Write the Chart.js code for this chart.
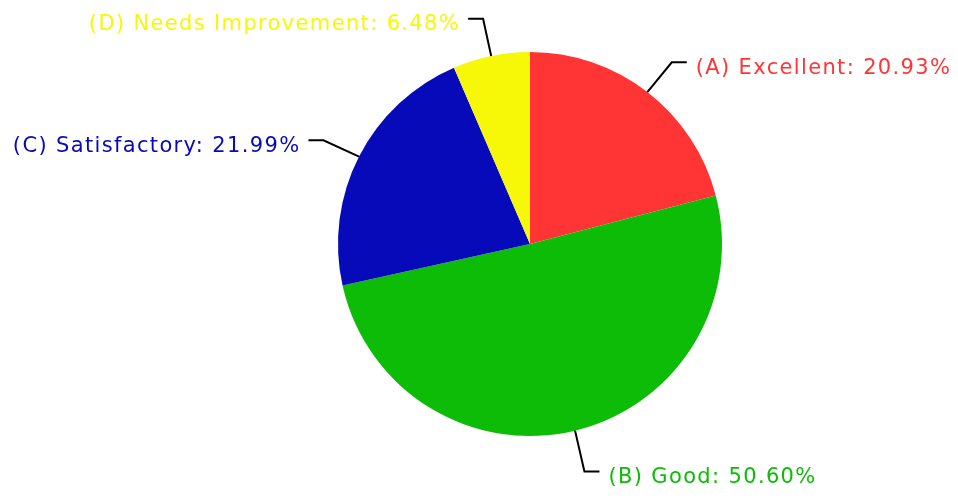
<!DOCTYPE html>
<html lang="en">

<head>
    <meta charset="UTF-8" />
    <title>Grade distribution</title>
    <script src="https://cdn.jsdelivr.net/npm/chart.js"></script>
    <style>
        html, body {
            margin: 0;
            padding: 0;
            background: #ffffff;
        }

        .wrap {
            width: 958px;
            height: 499px;
        }
    </style>
</head>

<body>
    <div class="wrap">
        <canvas id="grafico" width="958" height="499"></canvas>
    </div>

    <script>
        const etiquetas = ['(A) Excellent', '(B) Good', '(C) Satisfactory', '(D) Needs Improvement'];
        const valores = [20.93, 50.60, 21.99, 6.48];
        const colores = ['#ff3535', '#0cbc06', '#070ab9', '#f7f708'];

        // leader lines + labels outside the pie
        const etiquetasFuera = {
            id: 'etiquetasFuera',
            afterDatasetsDraw(chart) {
                const ctx = chart.ctx;
                const meta = chart.getDatasetMeta(0);
                ctx.save();
                ctx.font = '21px "DejaVu Sans", Verdana, sans-serif';
                ctx.letterSpacing = '1.35px';
                ctx.lineWidth = 2;
                ctx.strokeStyle = '#000';
                meta.data.forEach((arc, i) => {
                    const mid = (arc.startAngle + arc.endAngle) / 2;
                    const r = arc.outerRadius;
                    const x0 = arc.x + Math.cos(mid) * r;
                    const y0 = arc.y + Math.sin(mid) * r;
                    const x1 = arc.x + Math.cos(mid) * (r + 40);
                    const y1 = arc.y + Math.sin(mid) * (r + 40) + 2;
                    const derecha = Math.cos(mid) >= 0;
                    const x2 = x1 + (derecha ? 15 : -15);
                    ctx.beginPath();
                    ctx.moveTo(x0, y0);
                    ctx.lineTo(x1, y1);
                    ctx.lineTo(x2, y1);
                    ctx.stroke();

                    ctx.fillStyle = colores[i];
                    ctx.textBaseline = 'middle';
                    ctx.textAlign = derecha ? 'left' : 'right';
                    const texto = etiquetas[i] + ': ' + valores[i].toFixed(2) + '%';
                    ctx.fillText(texto, x2 + (derecha ? 9 : -8), y1 + 6);
                });
                ctx.restore();
            }
        };

        new Chart(document.getElementById('grafico'), {
            type: 'pie',
            data: {
                labels: etiquetas,
                datasets: [{
                    data: valores,
                    backgroundColor: colores,
                    borderWidth: 0
                }]
            },
            options: {
                responsive: false,
                animation: false,
                layout: {
                    padding: { top: 52, bottom: 63, left: 102, right: 0 }
                },
                plugins: {
                    legend: { display: false },
                    tooltip: { enabled: false }
                }
            },
            plugins: [etiquetasFuera]
        });
    </script>
</body>

</html>
